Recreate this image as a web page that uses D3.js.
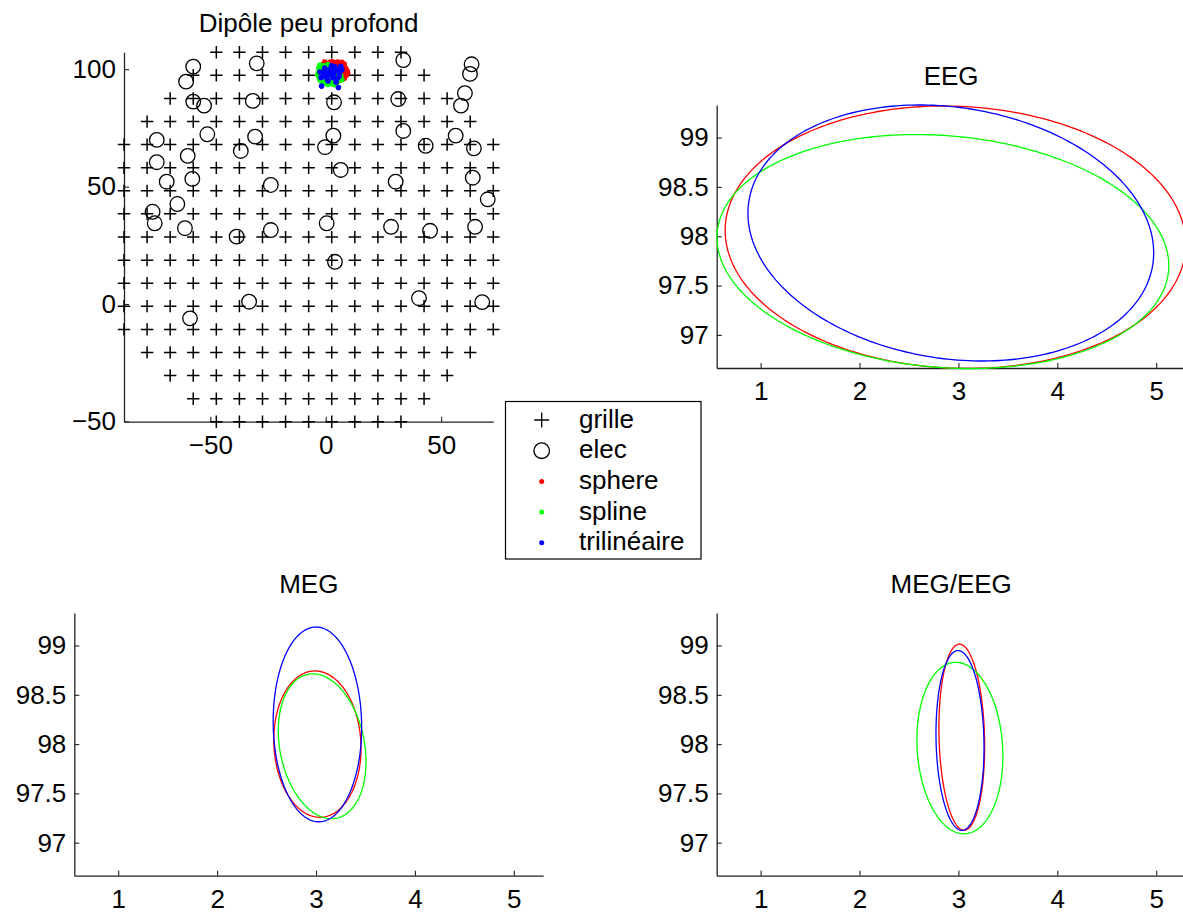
<!DOCTYPE html>
<html><head><meta charset="utf-8">
<script src="https://cdn.jsdelivr.net/npm/d3@7"></script>
<style>
body{margin:0;background:#fff}
svg{display:block}
text{font-family:"Liberation Sans",Arial,Helvetica,sans-serif;fill:#000}
</style>
</head><body>
<svg id="chart" width="1183" height="915"></svg>
<script>
// ---------------- DATA ----------------
// grid of candidate dipole positions (columns / rows, data units)
const gridX = [-87.4,-77.4,-67.4,-57.4,-47.4,-37.4,-27.4,-17.4,-7.4,2.6,12.6,22.6,32.6,42.6,52.6,62.6,72.6];
const gridY = [-50.1,-40.3,-30.4,-20.6,-10.8,-0.9,8.9,18.7,28.5,38.4,48.2,58.0,67.9,77.7,87.5,97.4,107.2];
// for each row of gridY: first and last column index present
const gridRowStart = [4,3,2,1,0,0,0,0,0,0,0,0,0,1,2,3,4];
const gridRowEnd   = [12,13,14,15,16,16,16,16,16,16,16,16,16,15,14,13,12];

// electrodes
const elecX = [-57.4,-60.5,-29.9,33.6,63.2,62.5,60.3,58.6,-57.4,-52.7,-31.6,3.6,31.4,33.6,56.3,64.2,43.3,-73.2,-51.3,-30.6,3.3,-0.3,-36.8,-73.2,-59.8,6.5,63.7,70.2,30.3,-68.9,-57.8,-23.8,-64.3,-75.0,-74.1,-61.0,-38.6,-23.8,0.4,28.3,45.2,64.7,4.0,-33.2,40.4,67.8,-58.8];
const elecY = [101.1,94.7,102.5,103.9,102.1,98.0,89.8,84.5,86.2,84.5,86.5,85.9,87.3,73.7,71.7,66.3,67.4,69.9,72.3,71.3,71.7,66.8,65.2,60.4,63.1,57.1,53.8,44.6,52.1,52.1,53.3,50.7,42.6,39.3,34.4,32.3,28.7,31.5,34.4,32.9,31.2,32.9,18.0,1.0,2.5,0.8,-6.1];

// localised dipoles, one cloud per method
const sphereX = [0,2,4,6,8,7.5,9.2,9,8,5,3,1,-1.5,6.5,4.5,2.5,7,1.5,5.5,-2,3.5,0.5,-0.5,3,5,7,8.5,6,2,4,-1,1,9.5,8,6.8,3.8];
const sphereY = [102.5,103,102.6,102.8,102.2,101,99.5,97.5,96,101.5,100.5,101,101.8,99,98,97,97.8,95.5,95,97.5,94.5,99,103,103.2,103.1,102.9,100.5,100.2,101.8,99.2,99.8,97.8,98.5,99,95.8,96.5];
const splineX = [-3,-3.2,-2.8,-2,-1,1,3,5,-1,1,0,2,4,6,-2,3,7,1.5,5,-0.5,-3.4,-2.5,-1.8,0,2,4,-2.6,-1.2,0.5,2.5,6.5,3.5];
const splineY = [100.5,98.5,96.5,95,94,93.5,93.8,94.5,101.5,102,99,98,96.5,96,99.5,100,95.5,95.8,98.5,97,97.5,101.8,97,95.2,94.8,93.4,95.6,98.8,100.5,96.2,97.2,99.2];
const trilinX = [-1.8,5.5,0,2,4,6,1,3,-2,5,2.5,-0.5,7,4.5,1.5,3.5,-2.5,6.5,0.5,3,5,-1,2,4,5.8,1];
const trilinY = [92.8,92.2,97,99,100,98.5,95,96.5,96.5,96,101.5,100.5,99.8,94.5,98,98.2,98.8,101.2,96,97.8,99.5,98.5,100,101,97,99.5];

const methods = ["sphere","spline","trilinéaire"];
const methodColors = ["#ff0000","#00ff00","#0000ff"];

// confidence ellipses [sphere, spline, trilinéaire]: centre, semi-axes, rotation (deg)
const eegCx = [2.97, 2.843, 2.923];
const eegCy = [97.99, 97.845, 98.033];
const eegRx = [2.33, 2.29, 2.067];
const eegRy = [1.327, 1.174, 1.272];
const eegAng = [-2.5, -4.8, -9];

const megCx = [3.014, 3.062, 3.014];
const megCy = [98.0, 97.978, 98.2];
const megRx = [0.44, 0.428, 0.447];
const megRy = [0.743, 0.744, 0.988];
const megAng = [3, 11, 1];

const meCx = [3.034, 3.015, 3.016];
const meCy = [98.07, 97.96, 98.037];
const meRx = [0.23, 0.432, 0.242];
const meRy = [0.944, 0.871, 0.912];
const meAng = [1.5, 3.6, 1.3];

const scatterTicksX = [-50, 0, 50];
const scatterTicksY = [-50, 0, 50, 100];
const ellTicksX = [1, 2, 3, 4, 5];
const ellTicksY = [97, 97.5, 98, 98.5, 99];
const ellDomX = [0.556, 5.297];
const ellDomY = [96.665, 99.33];

const titles = ["Dipôle peu profond", "EEG", "MEG", "MEG/EEG"];
const legendLabels = ["grille", "elec", "sphere", "spline", "trilinéaire"];

// ---------------- DRAW ----------------
const FS = 26;
const svg = d3.select("#chart");
svg.append("rect").attr("width",1183).attr("height",915).attr("fill","#fff");

function styleAxis(g){
  g.attr("font-size", null).attr("font-family", null);
  g.selectAll("text").style("font-size", FS + "px");
  g.select(".domain").attr("stroke","#222").attr("stroke-width",1.3);
  g.selectAll(".tick line").attr("stroke","#222").attr("stroke-width",1.1);
}
function drawAxes(x, y, tx, ty, fmtX, fmtY){
  const gx = svg.append("g").attr("transform",`translate(0,${y.range()[0]})`)
    .call(d3.axisBottom(x).tickValues(tx).tickSizeInner(-5).tickSizeOuter(0).tickPadding(14).tickFormat(fmtX));
  styleAxis(gx);
  const gy = svg.append("g").attr("transform",`translate(${x.range()[0]},0)`)
    .call(d3.axisLeft(y).tickValues(ty).tickSizeInner(-5).tickSizeOuter(0).tickPadding(8).tickFormat(fmtY));
  styleAxis(gy);
}
function title(txt, cx, base){
  svg.append("text").attr("x",cx).attr("y",base).attr("text-anchor","middle")
    .style("font-size",FS+"px").text(txt);
}

// --- panel 1: scatter
const sx = d3.scaleLinear().domain([gridX[0], gridX[gridX.length-1]]).range([124, 493.3]);
const sy = d3.scaleLinear().domain([gridY[0], gridY[gridY.length-1]]).range([421.7, 52.3]);
drawAxes(sx, sy, scatterTicksX, scatterTicksY, d3.format("d"), d3.format("d"));
title(titles[0], (sx.range()[0]+sx.range()[1])/2, 31.5);

const gridPts = [];
gridY.forEach((gy, r) => {
  for (let c = gridRowStart[r]; c <= gridRowEnd[r]; c++) gridPts.push([gridX[c], gy]);
});
const crossPath = (px, py, h) => `M${px-h},${py}H${px+h}M${px},${py-h}V${py+h}`;
svg.append("g").selectAll("path").data(gridPts).join("path")
  .attr("d", d => crossPath(sx(d[0]), sy(d[1]), 6.2))
  .attr("stroke","#000").attr("stroke-width",1.5).attr("fill","none");

svg.append("g").selectAll("circle").data(elecX.map((v,i)=>[v, elecY[i]])).join("circle")
  .attr("cx", d => sx(d[0])).attr("cy", d => sy(d[1])).attr("r", 7.3)
  .attr("fill","none").attr("stroke","#000").attr("stroke-width",1.3);

const clouds = [[sphereX, sphereY], [splineX, splineY], [trilinX, trilinY]];
clouds.forEach((cl, k) => {
  svg.append("g").selectAll("circle").data(cl[0].map((v,i)=>[v, cl[1][i]])).join("circle")
    .attr("cx", d => sx(d[0])).attr("cy", d => sy(d[1])).attr("r", 2.8)
    .attr("fill", methodColors[k]);
});

// --- ellipse panels
function ellipsePanel(left, top, bottom, cxs, cys, rxs, rys, angs, ttl){
  const x = d3.scaleLinear().domain(ellDomX).range([left, left + 468.9]);
  const y = d3.scaleLinear().domain(ellDomY).range([bottom, top]);
  drawAxes(x, y, ellTicksX, ellTicksY, d3.format("d"), d3.format("~g"));
  title(ttl, left + 468.9/2, top - 20);
  const line = d3.line().x(d => x(d[0])).y(d => y(d[1])).curve(d3.curveLinearClosed);
  cxs.forEach((cx, k) => {
    const th = angs[k] * Math.PI / 180;
    const pts = d3.range(0, 360, 1.5).map(deg => {
      const t = deg * Math.PI / 180;
      const u = rxs[k] * Math.cos(t), v = rys[k] * Math.sin(t);
      return [cx + u*Math.cos(th) - v*Math.sin(th), cys[k] + u*Math.sin(th) + v*Math.cos(th)];
    });
    svg.append("path").attr("d", line(pts)).attr("fill","none")
      .attr("stroke", methodColors[k]).attr("stroke-width", 1.3);
  });
}
ellipsePanel(716.7, 105, 368, eegCx, eegCy, eegRx, eegRy, eegAng, titles[1]);
ellipsePanel(74.3, 613, 875.7, megCx, megCy, megRx, megRy, megAng, titles[2]);
ellipsePanel(716.7, 613, 875.7, meCx, meCy, meRx, meRy, meAng, titles[3]);

// --- legend
const lg = svg.append("g");
lg.append("rect").attr("x",505.5).attr("y",401.5).attr("width",195.5).attr("height",157.5)
  .attr("fill","#fff").attr("stroke","#000").attr("stroke-width",1.2);
const ly = d3.scalePoint().domain(legendLabels).range([420, 542.8]);
const mx = 541.7;
legendLabels.forEach((lab, i) => {
  const yy = ly(lab);
  if (i === 0) lg.append("path").attr("d", crossPath(mx, yy, 7.5)).attr("stroke","#000").attr("stroke-width",1.3);
  else if (i === 1) lg.append("circle").attr("cx",mx).attr("cy",yy).attr("r",7.8).attr("fill","none").attr("stroke","#000").attr("stroke-width",1.3);
  else lg.append("circle").attr("cx",mx).attr("cy",yy).attr("r",2.5).attr("fill",methodColors[i-2]);
  lg.append("text").attr("x",579).attr("y",yy+7.5).style("font-size",FS+"px").text(lab);
});
</script>
</body></html>
